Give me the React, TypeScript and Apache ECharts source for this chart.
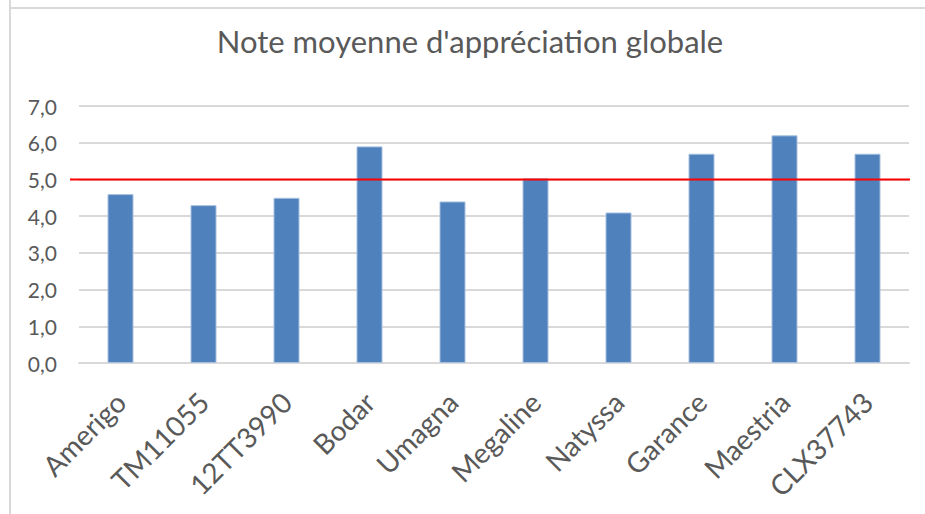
import React, { useEffect, useRef } from "react";
import * as echarts from "echarts";

const categories = ["Amerigo", "TM11055", "12TT3990", "Bodar", "Umagna", "Megaline", "Natyssa", "Garance", "Maestria", "CLX37743"];
const notes = [4.6, 4.3, 4.5, 5.9, 4.4, 5.03, 4.1, 5.7, 6.2, 5.7];
const threshold = 5.0;
const yTicks = { min: 0, max: 7, interval: 1 };
const title = "Note moyenne d'appréciation globale";

export default function App() {
  const ref = useRef<HTMLDivElement>(null);
  useEffect(() => {
    const chart = echarts.init(ref.current!, null, { renderer: "svg" });
    const font = "Lato, 'Open Sans', sans-serif";
    chart.setOption({
      animation: false,
      backgroundColor: "#ffffff",
      title: {
        text: title,
        left: 465,
        textAlign: "center",
        top: 20,
        textStyle: { fontFamily: font, fontSize: 31, fontWeight: "normal", color: "#595959" },
      },
      grid: { left: 79, right: 16, top: 106, bottom: 151 },
      xAxis: {
        type: "category",
        data: categories,
        axisLine: { show: true, lineStyle: { color: "#d9d9d9", width: 2 } },
        axisTick: { show: false },
        axisLabel: {
          rotate: 45,
          interval: 0,
          margin: 34,
          fontFamily: font,
          fontSize: 28,
          color: "#595959",
        },
      },
      yAxis: {
        type: "value",
        min: yTicks.min,
        max: yTicks.max,
        interval: yTicks.interval,
        axisLine: { show: false },
        axisTick: { show: false },
        splitLine: { lineStyle: { color: "#d9d9d9", width: 2 } },
        axisLabel: {
          margin: 22,
          fontFamily: font,
          fontSize: 21,
          color: "#595959",
          formatter: (v: number) => v.toFixed(1).replace(".", ","),
        },
      },
      series: [
        {
          type: "bar",
          data: notes,
          barWidth: 26,
          itemStyle: { color: "#4f81bd", borderColor: "#a7c0de", borderWidth: 1 },
        },
      ],
    });
    const yPix = chart.convertToPixel({ yAxisIndex: 0 }, threshold) as number;
    chart.setOption({
      graphic: [
        { type: "line", shape: { x1: 10, y1: 0, x2: 10, y2: 514 }, style: { stroke: "#d9d9d9", lineWidth: 2 }, silent: true },
        { type: "line", shape: { x1: 9, y1: 8, x2: 925, y2: 8 }, style: { stroke: "#d9d9d9", lineWidth: 2 }, silent: true },
        { type: "line", shape: { x1: 70, y1: yPix, x2: 910, y2: yPix }, style: { stroke: "#ff0000", lineWidth: 2 }, silent: true, z: 10 },
      ],
    });
    return () => chart.dispose();
  }, []);
  return <div ref={ref} style={{ position: "absolute", left: 0, top: 0, width: 925, height: 514 }} />;
}
